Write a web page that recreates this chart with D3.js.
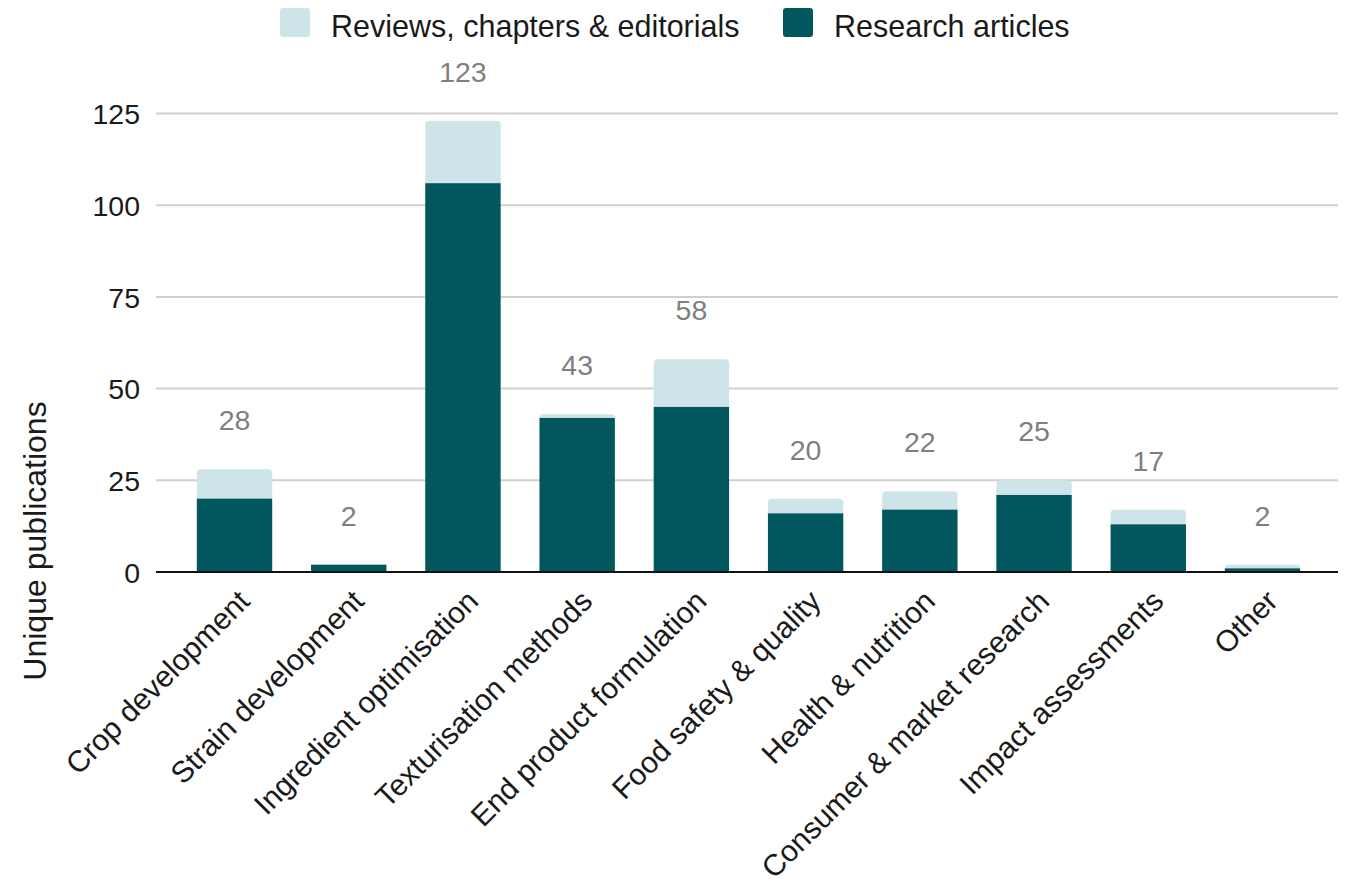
<!DOCTYPE html>
<html>
<head>
<meta charset="utf-8">
<script src="https://cdn.jsdelivr.net/npm/d3@7"></script>
<style>
  body { margin: 0; background: #fff; }
  svg { display: block; font-family: "Liberation Sans", Arial, sans-serif; }
</style>
</head>
<body>
<svg id="chart" width="1345" height="886"></svg>
<script>
const categories = ["Crop development", "Strain development", "Ingredient optimisation", "Texturisation methods", "End product formulation", "Food safety & quality", "Health & nutrition", "Consumer & market research", "Impact assessments", "Other"];
const research = [20, 2, 106, 42, 45, 16, 17, 21, 13, 1];
const reviews = [8, 0, 17, 1, 13, 4, 5, 4, 4, 1];
const totals = [28, 2, 123, 43, 58, 20, 22, 25, 17, 2];
const yTicks = [0, 25, 50, 75, 100, 125];
const seriesNames = ["Reviews, chapters & editorials", "Research articles"];
const colors = { research: "#02575f", reviews: "#cde5e8" };

const svg = d3.select("#chart");
const x = d3.scaleBand().domain(categories).range([177.4, 1319.6]).paddingInner(0.34).paddingOuter(0.17);
const y = d3.scaleLinear().domain([0, 125]).range([572, 113.5]);

// gridlines
svg.append("g").selectAll("line").data(yTicks.filter(d => d > 0)).join("line")
  .attr("x1", 156).attr("x2", 1338)
  .attr("y1", d => y(d)).attr("y2", d => y(d))
  .attr("stroke", "#d0d0d0").attr("stroke-width", 2);

// y tick labels
svg.append("g").selectAll("text").data(yTicks).join("text")
  .attr("x", 140).attr("y", d => y(d)).attr("dy", "0.38em")
  .attr("text-anchor", "end").attr("font-size", 28.5).attr("fill", "#1a1a1a")
  .text(d => d);

// y axis title
svg.append("text")
  .attr("transform", "translate(46,541) rotate(-90)")
  .attr("text-anchor", "middle").attr("font-size", 32).attr("fill", "#1a1a1a")
  .text("Unique publications");

const stackData = categories.map((c, i) => ({ cat: c, research: research[i], reviews: reviews[i], total: totals[i] }));

// reviews segment on top, rounded top corners
const r = 4;
svg.append("g").selectAll("path").data(stackData.filter(d => d.reviews > 0)).join("path")
  .attr("fill", colors.reviews)
  .attr("d", d => {
    const x0 = x(d.cat), x1 = x0 + x.bandwidth();
    const yt = y(d.research + d.reviews), yb = y(d.research);
    const rr = Math.min(r, (yb - yt));
    return `M${x0},${yb}V${yt + rr}Q${x0},${yt} ${x0 + rr},${yt}H${x1 - rr}Q${x1},${yt} ${x1},${yt + rr}V${yb}Z`;
  });

// research bars
svg.append("g").selectAll("rect").data(stackData).join("rect")
  .attr("fill", colors.research)
  .attr("x", d => x(d.cat)).attr("width", x.bandwidth())
  .attr("y", d => y(d.research)).attr("height", d => y(0) - y(d.research));

// baseline
svg.append("line").attr("x1", 156).attr("x2", 1338).attr("y1", y(0)).attr("y2", y(0))
  .attr("stroke", "#111").attr("stroke-width", 2);

// total labels
svg.append("g").selectAll("text").data(stackData).join("text")
  .attr("x", d => x(d.cat) + x.bandwidth() / 2)
  .attr("y", d => y(d.total) - 39)
  .attr("text-anchor", "middle").attr("font-size", 28.5).attr("fill", "#7f7f7f")
  .text(d => d.total);

// x labels
svg.append("g").selectAll("text").data(categories).join("text")
  .attr("transform", d => `translate(${x(d) + x.bandwidth() / 2 + 17},${603}) rotate(-45)`)
  .attr("text-anchor", "end").attr("font-size", 30).attr("fill", "#1a1a1a")
  .text(d => d);

// legend
const legendItems = [
  { name: seriesNames[0], color: colors.reviews, x: 280 },
  { name: seriesNames[1], color: colors.research, x: 783 }
];
const lg = svg.append("g").selectAll("g").data(legendItems).join("g")
  .attr("transform", d => `translate(${d.x},8)`);
lg.append("rect").attr("width", 30).attr("height", 29).attr("rx", 3).attr("fill", d => d.color);
lg.append("text").attr("x", 51).attr("y", 28.5)
  .attr("font-size", 30.5).attr("fill", "#1a1a1a").text(d => d.name);
</script>
</body>
</html>
